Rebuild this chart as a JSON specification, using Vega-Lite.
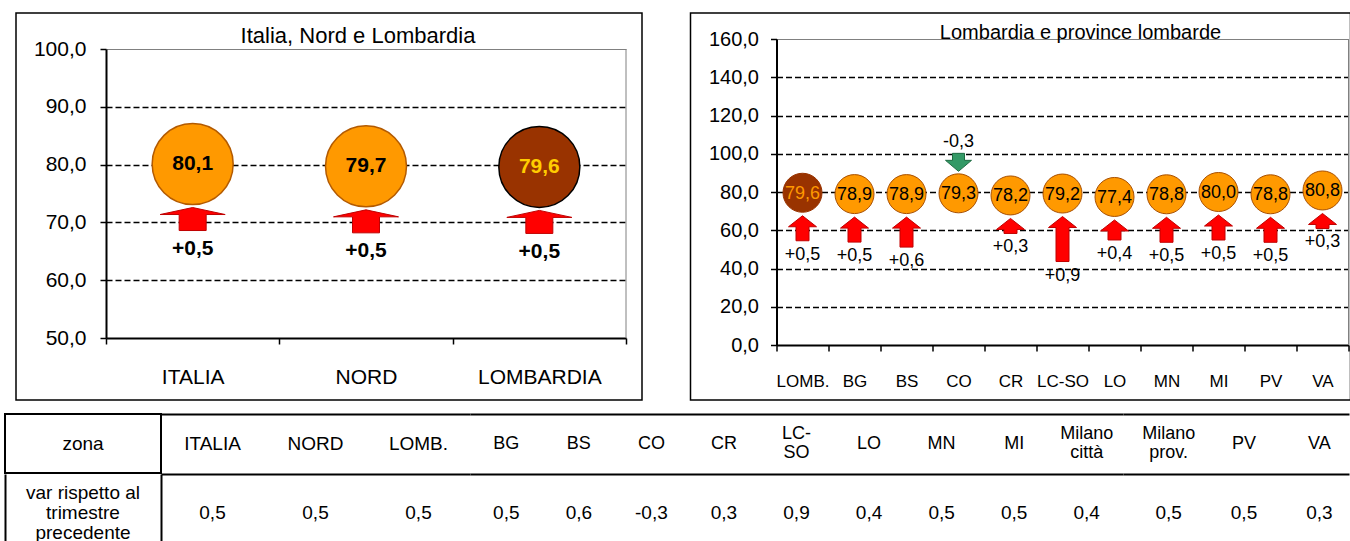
{
  "$schema": "https://vega.github.io/schema/vega-lite/v6.json",
  "padding": {"left": 4, "top": 12, "right": 0, "bottom": 0},
  "background": "white",
  "config": {
    "font": "Liberation Sans",
    "locale": {"number": {"decimal": ",", "thousands": ".", "grouping": [3], "currency": ["€", ""], "minus": "-"}},
    "axis": {"labelColor": "black", "domainColor": "black", "tickColor": "black", "labelFont": "Liberation Sans"},
    "text": {"font": "Liberation Sans", "color": "black"}
  },
  "datasets": {
    "sintesi": [
      {"zona": "ITALIA", "valore": 80.1, "var": 0.5},
      {"zona": "NORD", "valore": 79.7, "var": 0.5},
      {"zona": "LOMBARDIA", "valore": 79.6, "var": 0.5}
    ],
    "province": [
      {"zona": "LOMB.", "valore": 79.6, "var": 0.5},
      {"zona": "BG", "valore": 78.9, "var": 0.5},
      {"zona": "BS", "valore": 78.9, "var": 0.6},
      {"zona": "CO", "valore": 79.3, "var": -0.3},
      {"zona": "CR", "valore": 78.2, "var": 0.3},
      {"zona": "LC-SO", "valore": 79.2, "var": 0.9},
      {"zona": "LO", "valore": 77.4, "var": 0.4},
      {"zona": "MN", "valore": 78.8, "var": 0.5},
      {"zona": "MI", "valore": 80.0, "var": 0.5},
      {"zona": "PV", "valore": 78.8, "var": 0.5},
      {"zona": "VA", "valore": 80.8, "var": 0.3}
    ],
    "tabella": [
      {"zona": "ITALIA", "var": 0.5},
      {"zona": "NORD", "var": 0.5},
      {"zona": "LOMB.", "var": 0.5},
      {"zona": "BG", "var": 0.5},
      {"zona": "BS", "var": 0.6},
      {"zona": "CO", "var": -0.3},
      {"zona": "CR", "var": 0.3},
      {"zona": "LC-\nSO", "var": 0.9},
      {"zona": "LO", "var": 0.4},
      {"zona": "MN", "var": 0.5},
      {"zona": "MI", "var": 0.5},
      {"zona": "Milano\ncittà", "var": 0.4},
      {"zona": "Milano\nprov.", "var": 0.5},
      {"zona": "PV", "var": 0.5},
      {"zona": "VA", "var": 0.3}
    ]
  },
  "spacing": 12,
  "vconcat": [
    {
      "spacing": 0,
      "hconcat": [
        {"width": 10, "height": 10, "data": {"values": []}, "mark": {"type": "point", "opacity": 0}, "view": {"stroke": null}},
        {
          "spacing": 46.5,
          "hconcat": [
            {
              "width": 626,
              "height": 387,
              "view": {"stroke": "black", "strokeWidth": 1.5},
              "data": {"name": "sintesi"},
              "encoding": {
                "x": {
                  "field": "zona", "type": "nominal", "sort": null,
                  "scale": {"type": "band", "domain": ["ITALIA", "NORD", "LOMBARDIA"], "paddingInner": 0, "paddingOuter": 0, "range": [90, 610]},
                  "axis": {"title": null, "offset": -62, "tickBand": "extent", "domainWidth": 2, "tickWidth": 1.5, "tickSize": 6, "labelFontSize": 21, "labelPadding": 22, "labelAngle": 0, "grid": false}
                },
                "y": {
                  "field": "valore", "type": "quantitative",
                  "scale": {"domain": [50, 100], "nice": false, "zero": false, "range": [325, 36]},
                  "axis": {
                    "title": null, "offset": -90, "values": [50, 60, 70, 80, 90, 100], "format": ".1f",
                    "domainWidth": 2, "tickWidth": 1.5, "tickSize": 6, "labelFontSize": 21, "labelPadding": 14,
                    "grid": true,
                    "gridColor": {"condition": {"test": "datum.value >= 100", "value": "#808080"}, "value": "black"},
                    "gridDash": {"condition": {"test": "datum.value >= 100", "value": []}, "value": [6, 3]},
                    "gridWidth": {"condition": {"test": "datum.value >= 100", "value": 1}, "value": 1.5},
                    "gridOpacity": {"condition": {"test": "datum.value <= 50", "value": 0}, "value": 1}
                  }
                }
              },
              "layer": [
                {
                  "transform": [{"filter": "datum.zona === 'LOMBARDIA'"}],
                  "mark": {"type": "rule", "color": "#808080", "strokeWidth": 1},
                  "encoding": {
                    "x": {"field": "zona", "type": "nominal", "sort": null, "bandPosition": 1},
                    "y": {"datum": 50, "type": "quantitative"},
                    "y2": {"datum": 100}
                  }
                },
                {
                  "mark": {"type": "circle", "size": 6561, "strokeWidth": 1.5, "opacity": 1},
                  "encoding": {
                    "fill": {"condition": {"test": "datum.zona === 'LOMBARDIA'", "value": "#993300"}, "value": "#FF9900"},
                    "stroke": {"condition": {"test": "datum.zona === 'LOMBARDIA'", "value": "#000000"}, "value": "#B35A00"}
                  }
                },
                {
                  "mark": {"type": "text", "fontSize": 21, "fontWeight": "bold", "baseline": "middle"},
                  "encoding": {
                    "text": {"field": "valore", "type": "quantitative", "format": ".1f"},
                    "color": {"condition": {"test": "datum.zona === 'LOMBARDIA'", "value": "#FFCC00"}, "value": "black"}
                  }
                },
                {
                  "mark": {"type": "point", "shape": "M0,0L3.25,0.7L1.35,0.7L1.35,2.3L-1.35,2.3L-1.35,0.7L-3.25,0.7Z", "size": 400, "filled": true, "fill": "#FF0000", "stroke": "#C00000", "strokeWidth": 1, "opacity": 1, "yOffset": 43.5}
                },
                {
                  "mark": {"type": "text", "fontSize": 21, "fontWeight": "bold", "baseline": "middle", "yOffset": 85},
                  "encoding": {"text": {"field": "var", "type": "quantitative", "format": "+.1f"}}
                },
                {
                  "transform": [{"filter": "datum.zona === 'NORD'"}],
                  "mark": {"type": "text", "fontSize": 22, "baseline": "alphabetic", "dx": -8, "text": "Italia, Nord e Lombardia"},
                  "encoding": {"y": {"datum": 101, "type": "quantitative"}}
                }
              ]
            },
            {
              "width": 660,
              "height": 387,
              "view": {"stroke": "black", "strokeWidth": 1.5},
              "data": {"name": "province"},
              "encoding": {
                "x": {
                  "field": "zona", "type": "nominal", "sort": null,
                  "scale": {"type": "band", "domain": ["LOMB.", "BG", "BS", "CO", "CR", "LC-SO", "LO", "MN", "MI", "PV", "VA"], "paddingInner": 0, "paddingOuter": 0, "range": [86, 658]},
                  "axis": {"title": null, "offset": -55, "tickBand": "extent", "domainWidth": 2, "tickWidth": 1.5, "tickSize": 6, "labelFontSize": 17, "labelPadding": 22, "labelAngle": 0, "grid": false}
                },
                "y": {
                  "field": "valore", "type": "quantitative",
                  "scale": {"domain": [0, 160], "nice": false, "range": [332, 26]},
                  "axis": {
                    "title": null, "offset": -86, "values": [0, 20, 40, 60, 80, 100, 120, 140, 160], "format": ".1f",
                    "domainWidth": 2, "tickWidth": 1.5, "tickSize": 6, "labelFontSize": 20, "labelPadding": 12,
                    "grid": true,
                    "gridColor": {"condition": {"test": "datum.value >= 160", "value": "#808080"}, "value": "black"},
                    "gridDash": {"condition": {"test": "datum.value >= 160", "value": []}, "value": [6, 3]},
                    "gridWidth": {"condition": {"test": "datum.value >= 160", "value": 1}, "value": 1.5},
                    "gridOpacity": {"condition": {"test": "datum.value <= 0", "value": 0}, "value": 1}
                  }
                }
              },
              "layer": [
                {
                  "transform": [{"filter": "datum.zona === 'VA'"}],
                  "mark": {"type": "rule", "color": "#808080", "strokeWidth": 1},
                  "encoding": {
                    "x": {"field": "zona", "type": "nominal", "sort": null, "bandPosition": 1},
                    "y": {"datum": 0, "type": "quantitative"},
                    "y2": {"datum": 160}
                  }
                },
                {
                  "mark": {"type": "circle", "size": 1521, "strokeWidth": 1, "opacity": 1},
                  "encoding": {
                    "fill": {"condition": {"test": "datum.zona === 'LOMB.'", "value": "#993300"}, "value": "#FF9900"},
                    "stroke": {"condition": {"test": "datum.zona === 'LOMB.'", "value": "#993300"}, "value": "#A84F00"}
                  }
                },
                {
                  "mark": {"type": "text", "fontSize": 18, "baseline": "middle", "dy": 1},
                  "encoding": {
                    "text": {"field": "valore", "type": "quantitative", "format": ".1f"},
                    "color": {"condition": {"test": "datum.zona === 'LOMB.'", "value": "#FF9900"}, "value": "black"}
                  }
                },
                {
                  "transform": [{"filter": "datum.var > 0"}],
                  "mark": {"type": "point", "size": 400, "filled": true, "fill": "#FF0000", "stroke": "#C00000", "strokeWidth": 1, "opacity": 1, "yOffset": 23},
                  "encoding": {
                    "shape": {
                      "field": "var", "type": "nominal", "legend": null,
                      "scale": {
                        "domain": [0.3, 0.4, 0.5, 0.6, 0.9],
                        "range": [
                          "M0,0L1.4,1.1L0.65,1.1L0.65,1.5L-0.65,1.5L-0.65,1.1L-1.4,1.1Z",
                          "M0,0L1.4,1.1L0.65,1.1L0.65,2.0L-0.65,2.0L-0.65,1.1L-1.4,1.1Z",
                          "M0,0L1.4,1.1L0.65,1.1L0.65,2.5L-0.65,2.5L-0.65,1.1L-1.4,1.1Z",
                          "M0,0L1.4,1.1L0.65,1.1L0.65,3.0L-0.65,3.0L-0.65,1.1L-1.4,1.1Z",
                          "M0,0L1.4,1.1L0.65,1.1L0.65,4.5L-0.65,4.5L-0.65,1.1L-1.4,1.1Z"
                        ]
                      }
                    }
                  }
                },
                {
                  "transform": [{"filter": "datum.var > 0"}],
                  "mark": {"type": "text", "fontSize": 18, "baseline": "middle", "yOffset": {"expr": "37 + 50 * datum.var"}},
                  "encoding": {"text": {"field": "var", "type": "quantitative", "format": "+.1f"}}
                },
                {
                  "transform": [{"filter": "datum.var < 0"}],
                  "mark": {"type": "point", "shape": "M0,0L-1.3,-1.1L-0.6,-1.1L-0.6,-1.8L0.6,-1.8L0.6,-1.1L1.3,-1.1Z", "size": 400, "filled": true, "fill": "#339966", "stroke": "#1D6B41", "strokeWidth": 1, "opacity": 1, "yOffset": -22}
                },
                {
                  "transform": [{"filter": "datum.var < 0"}],
                  "mark": {"type": "text", "fontSize": 18, "baseline": "middle", "yOffset": -51},
                  "encoding": {"text": {"field": "var", "type": "quantitative", "format": "+.1f"}}
                },
                {
                  "transform": [{"filter": "datum.zona === 'LO'"}],
                  "mark": {"type": "text", "fontSize": 20, "baseline": "alphabetic", "dx": -34, "text": "Lombardia e province lombarde"},
                  "encoding": {"y": {"datum": 160, "type": "quantitative"}}
                }
              ]
            }
          ]
        }
      ]
    },
    {
      "spacing": -2,
      "vconcat": [
        {
          "spacing": 0,
          "bounds": "flush",
          "hconcat": [
            {
              "width": 156, "height": 59,
              "data": {"values": [{"t": "zona"}]},
              "view": {"stroke": "black", "strokeWidth": 2},
              "mark": {"type": "text", "fontSize": 19, "baseline": "middle"},
              "encoding": {"text": {"field": "t"}}
            },
            {
              "width": 309, "height": 59,
              "data": {"name": "tabella"},
              "transform": [{"filter": {"field": "zona", "oneOf": ["ITALIA", "NORD", "LOMB."]}}],
              "view": {"stroke": null},
              "mark": {"type": "text", "fontSize": 19, "lineBreak": "\n", "lineHeight": 19, "baseline": "middle"},
              "encoding": {
                "x": {"field": "zona", "type": "nominal", "sort": null, "scale": {"type": "band", "paddingInner": 0, "paddingOuter": 0}, "axis": {"orient": "top", "title": null, "labels": false, "ticks": false, "domainWidth": 2}},
                "text": {"field": "zona"}
              }
            },
            {
              "width": 653, "height": 59,
              "data": {"name": "tabella"},
              "transform": [{"filter": {"field": "zona", "oneOf": ["BG", "BS", "CO", "CR", "LC-\nSO", "LO", "MN", "MI", "Milano\ncittà"]}}],
              "view": {"stroke": null},
              "mark": {"type": "text", "fontSize": 18, "lineBreak": "\n", "lineHeight": 19, "baseline": "middle", "dy": {"expr": "indexof(datum.zona, '\\n') >= 0 ? -9.5 : 0"}},
              "encoding": {
                "x": {"field": "zona", "type": "nominal", "sort": null, "scale": {"type": "band", "paddingInner": 0, "paddingOuter": 0}, "axis": {"orient": "top", "title": null, "labels": false, "ticks": false, "domainWidth": 2}},
                "text": {"field": "zona"}
              }
            },
            {
              "width": 226, "height": 59,
              "data": {"name": "tabella"},
              "transform": [{"filter": {"field": "zona", "oneOf": ["Milano\nprov.", "PV", "VA"]}}],
              "view": {"stroke": null},
              "mark": {"type": "text", "fontSize": 18, "lineBreak": "\n", "lineHeight": 19, "baseline": "middle", "dx": 8, "dy": {"expr": "indexof(datum.zona, '\\n') >= 0 ? -9.5 : 0"}},
              "encoding": {
                "x": {"field": "zona", "type": "nominal", "sort": null, "scale": {"type": "band", "paddingInner": 0, "paddingOuter": 0}, "axis": {"orient": "top", "title": null, "labels": false, "ticks": false, "domainWidth": 2}},
                "text": {"field": "zona"}
              }
            }
          ]
        },
        {
          "spacing": 0,
          "bounds": "flush",
          "hconcat": [
            {
              "width": 156, "height": 67,
              "data": {"values": [{"riga": "var rispetto al\ntrimestre\nprecedente"}]},
              "view": {"stroke": null},
              "mark": {"type": "text", "fontSize": 19, "lineBreak": "\n", "lineHeight": 20, "baseline": "middle", "dy": -15, "clip": true},
              "encoding": {
                "y": {"field": "riga", "type": "nominal", "axis": {"orient": "left", "title": null, "labels": false, "ticks": false, "domainWidth": 2}},
                "text": {"field": "riga"}
              }
            },
            {
              "width": 309, "height": 67,
              "data": {"name": "tabella"},
              "transform": [{"filter": {"field": "zona", "oneOf": ["ITALIA", "NORD", "LOMB."]}}],
              "view": {"stroke": null},
              "mark": {"type": "text", "fontSize": 19, "baseline": "middle", "dy": 5.5},
              "encoding": {
                "x": {"field": "zona", "type": "nominal", "sort": null, "scale": {"type": "band", "paddingInner": 0, "paddingOuter": 0}, "axis": {"orient": "top", "title": null, "labels": false, "ticks": false, "domainWidth": 2}},
                "y": {"datum": "valori", "type": "nominal", "axis": {"orient": "left", "title": null, "labels": false, "ticks": false, "domainWidth": 2}},
                "text": {"field": "var", "type": "quantitative", "format": ".1f"}
              }
            },
            {
              "width": 653, "height": 67,
              "data": {"name": "tabella"},
              "transform": [{"filter": {"field": "zona", "oneOf": ["BG", "BS", "CO", "CR", "LC-\nSO", "LO", "MN", "MI", "Milano\ncittà"]}}],
              "view": {"stroke": null},
              "mark": {"type": "text", "fontSize": 19, "baseline": "middle", "dy": 5.5},
              "encoding": {
                "x": {"field": "zona", "type": "nominal", "sort": null, "scale": {"type": "band", "paddingInner": 0, "paddingOuter": 0}, "axis": {"orient": "top", "title": null, "labels": false, "ticks": false, "domainWidth": 2}},
                "text": {"field": "var", "type": "quantitative", "format": ".1f"}
              }
            },
            {
              "width": 226, "height": 67,
              "data": {"name": "tabella"},
              "transform": [{"filter": {"field": "zona", "oneOf": ["Milano\nprov.", "PV", "VA"]}}],
              "view": {"stroke": null},
              "mark": {"type": "text", "fontSize": 19, "baseline": "middle", "dy": 5.5, "dx": 8},
              "encoding": {
                "x": {"field": "zona", "type": "nominal", "sort": null, "scale": {"type": "band", "paddingInner": 0, "paddingOuter": 0}, "axis": {"orient": "top", "title": null, "labels": false, "ticks": false, "domainWidth": 2}},
                "text": {"field": "var", "type": "quantitative", "format": ".1f"}
              }
            }
          ]
        }
      ]
    }
  ]
}
